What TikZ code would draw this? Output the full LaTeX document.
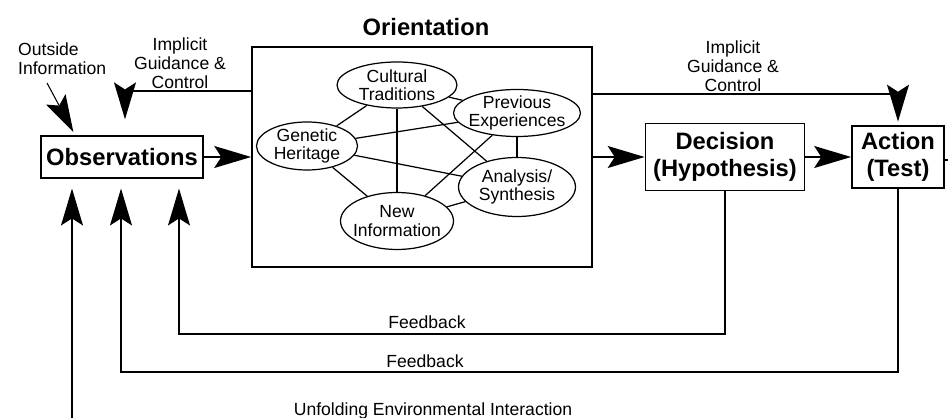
\documentclass[tikz,border=0pt]{standalone}
\usepackage{fontspec}
\setmainfont{Liberation Sans}
\usetikzlibrary{arrows.meta,shapes.geometric}
\tikzset{
  box/.style={draw, line width=1pt, align=center, inner sep=0pt,
    font=\bfseries\fontsize{13.5}{15.5}\selectfont},
  blob/.style={draw, ellipse, line width=0.7pt, inner sep=-3pt, align=center,
    font=\fontsize{10}{10.5}\selectfont},
  note/.style={align=center, font=\fontsize{10}{10.8}\selectfont},
  flow/.style={line width=0.9pt, -{Stealth[length=21pt,width=12.5pt,inset=4pt]}},
}
\begin{document}
\begin{tikzpicture}[x=0.02cm, y=-0.02cm]
	\useasboundingbox (0,0) rectangle (948,418);

	\node[box, minimum width=3.24cm, minimum height=0.84cm] (obs) at (122,157) {Observations};
	\node[box, minimum width=6.8cm, minimum height=4.4cm] (orient) at (422,157) {};
	\node[font=\bfseries\fontsize{13.5}{15.5}\selectfont] (otitle) at (426,27) {Orientation};
	\node[box, minimum width=3.18cm, minimum height=1.34cm] (dec) at (725,157) {Decision\\(Hypothesis)};
	\node[box, minimum width=1.84cm, minimum height=1.24cm] (act) at (898,157) {Action\\(Test)};

	\node[blob, minimum width=2.4cm, minimum height=0.92cm] (ct) at (397,85) {Cultural\\Traditions};
	\node[blob, minimum width=2.54cm, minimum height=0.94cm] (pe) at (517,113) {Previous\\Experiences};
	\node[blob, minimum width=2.02cm, minimum height=0.96cm] (gh) at (307,146) {Genetic\\Heritage};
	\node[blob, minimum width=2.34cm, minimum height=1.18cm] (as) at (517,187) {Analysis/\\Synthesis};
	\node[blob, minimum width=2.26cm, minimum height=1.14cm] (ni) at (397,221) {New\\Information};
	\foreach \a/\b in {ct/pe,ct/gh,ct/as,ct/ni,pe/gh,pe/as,pe/ni,gh/as,gh/ni,as/ni}
		\draw[line width=0.7pt] (\a) -- (\b);

	\draw[flow] (obs) -- (orient);
	\draw[flow] (orient) -- (dec);
	\draw[flow] (dec) -- (act);

	\coordinate (outside) at (47,83);
	\coordinate (seen) at (75,135);
	\draw[flow, line width=0.6pt, shorten >=2pt] (outside) -- (seen);
	\node[note, anchor=west, align=left] (oinfo) at (12,59) {Outside\\Information};

	\coordinate (gl) at (125,91);
	\draw[flow, shorten >=9pt] (orient.west |- gl) -| (obs.north -| gl);
	\node[note] (igl) at (180,63) {Implicit\\Guidance \&\\Control};

	\coordinate (gr) at (898,94);
	\draw[flow, shorten >=2pt] (orient.east |- gr) -| (act.north);
	\node[note] (igr) at (733,66) {Implicit\\Guidance \&\\Control};

	\coordinate (beyond) at (948,160);
	\draw[line width=0.9pt] (act.east |- beyond) -- (beyond);

	\coordinate (fb1) at (179,334);
	\draw[flow, shorten >=5.5pt] (dec.south) |- (fb1) -- (fb1 |- obs.south);
	\node[note] (fbl1) at (427,322) {Feedback};

	\coordinate (fb2) at (121,372);
	\draw[flow, shorten >=5.5pt] (act.south) |- (fb2) -- (fb2 |- obs.south);
	\node[note] (fbl2) at (425,361) {Feedback};

	\coordinate (env) at (72,418);
	\draw[flow, shorten >=5.5pt] (env) -- (env |- obs.south);
	\node[note] (envl) at (433,411) {Unfolding Environmental Interaction};
\end{tikzpicture}
\end{document}
